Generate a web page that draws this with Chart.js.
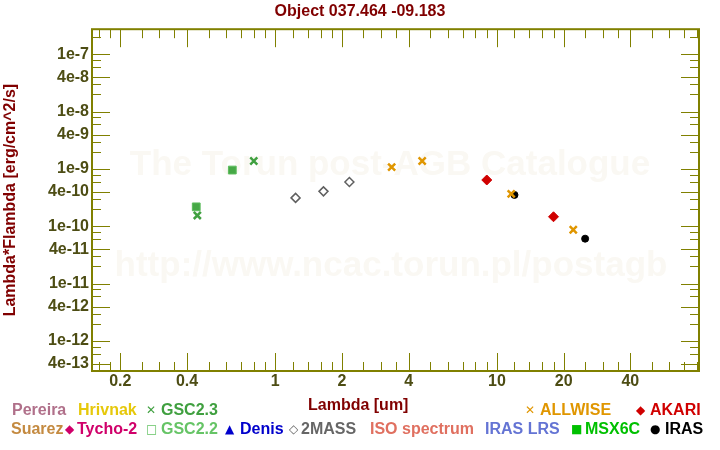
<!DOCTYPE html>
<html>
<head>
<meta charset="utf-8">
<script src="https://cdn.jsdelivr.net/npm/chart.js@4.4.1/dist/chart.umd.min.js"></script>
<style>
  body { margin: 0; background: #fff; }
  #wrap { position: relative; width: 720px; height: 450px; }
  .lg { position: absolute; font: bold 16px "Liberation Sans", Arial, sans-serif; line-height: 18px; white-space: nowrap; }
  .sym { position: absolute; font: 12px "DejaVu Sans", sans-serif; line-height: 12px; }
</style>
</head>
<body>
<div id="wrap">
  <canvas id="sed" width="720" height="450"></canvas>
  <div id="legend"></div>
</div>
<script>
// photometry: wavelength [um] and lambda*F_lambda [erg/cm^2/s]
const gsc22Lam = [0.44, 0.64]
const gsc22Flux = [2.19e-10, 9.6e-10]
const gsc23Lam = [0.445, 0.8]
const gsc23Flux = [1.55e-10, 1.38e-9]
const twomassLam = [1.235, 1.65, 2.16]
const twomassFlux = [3.14e-10, 4.08e-10, 5.94e-10]
const allwiseLam = [3.35, 4.6, 11.6, 22.1]
const allwiseFlux = [1.08e-9, 1.38e-9, 3.68e-10, 8.73e-11]
const akariLam = [9, 18]
const akariFlux = [6.44e-10, 1.47e-10]
const irasLam = [12, 25]
const irasFlux = [3.54e-10, 6.1e-11]

// axes
const xTickVals = [0.2, 0.4, 1, 2, 4, 10, 20, 40]
const xTickLabels = ['0.2', '0.4', '1', '2', '4', '10', '20', '40']
const xMinorVals = [0.16, 0.18, 0.25, 0.3, 0.35, 0.5, 0.6, 0.7, 0.8, 0.9, 1.2, 1.4, 1.6, 1.8,
  2.5, 3, 3.5, 5, 6, 7, 8, 9, 12, 14, 16, 18, 25, 30, 35, 50, 60, 70, 80]
const yTickVals = [1e-7, 4e-8, 1e-8, 4e-9, 1e-9, 4e-10, 1e-10, 4e-11, 1e-11, 4e-12, 1e-12, 4e-13]
const yTickLabels = ['1e-7', '4e-8', '1e-8', '4e-9', '1e-9', '4e-10', '1e-10', '4e-11', '1e-11', '4e-12', '1e-12', '4e-13']
const yMinorVals = [2e-7, 8e-8, 6e-8, 3e-8, 2e-8, 8e-9, 6e-9, 3e-9, 2e-9, 8e-10, 6e-10, 3e-10, 2e-10,
  8e-11, 6e-11, 3e-11, 2e-11, 8e-12, 6e-12, 3e-12, 2e-12, 8e-13, 6e-13]
const xMin = 0.149, xMax = 81.6
const yMin = 3.18e-13, yMax = 2.75e-7

const watermark = ['The Torun post-AGB Catalogue', 'http://www.ncac.torun.pl/postagb']

// legend: [text, colour, left, row, isSymbol]
const legendItems = [
  ['Pereira', '#b0708a', 12, 0],
  ['Hrivnak', '#e6c80a', 78, 0],
  ['\u2715', '#40a040', 146, 0, true],
  ['GSC2.3', '#40a040', 161, 0],
  ['\u2715', '#e09600', 525, 0, true],
  ['ALLWISE', '#e09600', 540, 0],
  ['\u25c6', '#d00000', 636, 0, true],
  ['AKARI', '#d00000', 650, 0],
  ['Suarez', '#c48a40', 11, 1],
  ['\u25c6', '#d0006a', 65, 1, true],
  ['Tycho-2', '#d0006a', 77, 1],
  ['\u25a1', '#66c466', 146, 1, true],
  ['GSC2.2', '#66c466', 161, 1],
  ['\u25b2', '#0000cc', 225, 1, true],
  ['Denis', '#0000cc', 240, 1],
  ['\u25c7', '#666666', 289, 1, true],
  ['2MASS', '#666666', 301, 1],
  ['ISO spectrum', '#e07060', 370, 1],
  ['IRAS LRS', '#6474d4', 485, 1],
  ['\u25a0', '#00c000', 571, 1, true],
  ['MSX6C', '#00c000', 585, 1],
  ['\u25cf', '#000000', 650, 1, true],
  ['IRAS', '#000000', 665, 1]
]

const fontFamily = '"Liberation Sans", Arial, sans-serif'
const frameColor = '#808000'
const tickColor = '#4d4d14'
const titleColor = '#800000'

function pts(lam, flux) {
  return lam.map((l, i) => ({ x: l, y: flux[i] }))
}

function buildLegend() {
  const box = document.getElementById('legend')
  const rowTop = [401, 420]
  legendItems.forEach(([text, color, left, row, isSym]) => {
    const el = document.createElement('div')
    el.className = isSym ? 'sym' : 'lg'
    el.textContent = text
    el.style.color = color
    el.style.left = left + 'px'
    el.style.top = (rowTop[row] + (isSym ? 3 : 0)) + 'px'
    box.appendChild(el)
  })
  const xt = document.createElement('div')
  xt.className = 'lg'
  xt.textContent = 'Lambda [um]'
  xt.style.color = titleColor
  xt.style.left = '308px'
  xt.style.top = '396px'
  box.appendChild(xt)
}

const frameTicks = {
  id: 'frameTicks',
  beforeDatasetsDraw(chart) {
    const { ctx, chartArea: a, scales: { x, y } } = chart
    ctx.save()
    ctx.fillStyle = '#faf8f3'
    ctx.font = 'bold 35px ' + fontFamily
    ctx.textAlign = 'center'
    ctx.fillText(watermark[0], 390, 175)
    ctx.fillText(watermark[1], 391, 276)

    ctx.strokeStyle = frameColor
    ctx.lineWidth = 1
    ctx.beginPath()
    const tickX = (vals, len) => vals.filter(v => v > xMin && v < xMax).forEach(v => {
      const px = Math.round(x.getPixelForValue(v)) + 0.5
      ctx.moveTo(px, a.bottom); ctx.lineTo(px, a.bottom - len)
      ctx.moveTo(px, a.top); ctx.lineTo(px, a.top + len)
    })
    const tickY = (vals, len) => vals.filter(v => v > yMin && v < yMax).forEach(v => {
      const py = Math.round(y.getPixelForValue(v)) + 0.5
      ctx.moveTo(a.left, py); ctx.lineTo(a.left + len, py)
      ctx.moveTo(a.right, py); ctx.lineTo(a.right - len, py)
    })
    tickX(xTickVals, 18)
    tickX(xMinorVals, 9)
    tickY(yTickVals, 18)
    tickY(yMinorVals, 9)
    ctx.stroke()
    ctx.lineWidth = 2
    ctx.strokeRect(a.left, a.top, a.right - a.left, a.bottom - a.top)
    ctx.restore()
  }
}

const tickFont = { family: fontFamily, size: 16, weight: 'bold' }

new Chart(document.getElementById('sed'), {
  type: 'scatter',
  data: {
    datasets: [
      {
        label: 'ALLWISE', data: pts(allwiseLam, allwiseFlux),
        pointStyle: 'crossRot', pointRadius: 5, pointBorderWidth: 2.5,
        pointBorderColor: '#e09600', pointBackgroundColor: '#e09600'
      },
      {
        label: 'AKARI', data: pts(akariLam, akariFlux),
        pointStyle: 'rectRot', pointRadius: 5, pointBorderWidth: 1,
        pointBorderColor: '#d00000', pointBackgroundColor: '#d00000'
      },
      {
        label: 'IRAS', data: pts(irasLam, irasFlux),
        pointStyle: 'circle', pointRadius: 3.5, pointBorderWidth: 1,
        pointBorderColor: '#000', pointBackgroundColor: '#000'
      },
      {
        label: '2MASS', data: pts(twomassLam, twomassFlux),
        pointStyle: 'rectRot', pointRadius: 4.5, pointBorderWidth: 1.5,
        pointBorderColor: '#606060', pointBackgroundColor: 'rgba(255,255,255,0)'
      },
      {
        label: 'GSC2.3', data: pts(gsc23Lam, gsc23Flux),
        pointStyle: 'crossRot', pointRadius: 5, pointBorderWidth: 2.5,
        pointBorderColor: '#40a040', pointBackgroundColor: '#40a040'
      },
      {
        label: 'GSC2.2', data: pts(gsc22Lam, gsc22Flux),
        pointStyle: 'rect', pointRadius: 5.5, pointBorderWidth: 1,
        pointBorderColor: '#5cbc5c', pointBackgroundColor: '#46a846'
      }
    ]
  },
  options: {
    responsive: false,
    animation: false,
    events: [],
    layout: { padding: 0 },
    plugins: {
      legend: { display: false },
      tooltip: { enabled: false },
      title: {
        display: true,
        text: 'Object 037.464 -09.183',
        color: titleColor,
        font: { family: fontFamily, size: 16, weight: 'bold' },
        padding: { top: 2, bottom: 8 }
      }
    },
    scales: {
      x: {
        type: 'logarithmic', min: xMin, max: xMax,
        grid: { display: false, drawTicks: false },
        border: { display: false },
        afterBuildTicks: s => { s.ticks = xTickVals.map(v => ({ value: v })) },
        ticks: {
          callback: (v, i) => xTickLabels[i],
          color: tickColor, font: tickFont, padding: 1,
          autoSkip: false, maxRotation: 0
        },
        afterFit: s => { s.height = 79 }
      },
      y: {
        type: 'logarithmic', min: yMin, max: yMax,
        grid: { display: false, drawTicks: false },
        border: { display: false },
        afterBuildTicks: s => { s.ticks = yTickVals.map(v => ({ value: v })) },
        ticks: {
          callback: (v, i) => yTickLabels[i],
          color: tickColor, font: tickFont, padding: 3, autoSkip: false
        },
        title: {
          display: true,
          text: 'Lambda*Flambda [erg/cm^2/s]',
          color: titleColor,
          font: { family: fontFamily, size: 16, weight: 'bold' },
          padding: { top: 1, bottom: 0 }
        },
        afterFit: s => { s.width = 92 }
      },
      yRight: {
        type: 'linear', position: 'right',
        grid: { display: false, drawTicks: false },
        border: { display: false },
        ticks: { display: false },
        afterFit: s => { s.width = 21 }
      }
    }
  },
  plugins: [frameTicks]
})

buildLegend()
</script>
</body>
</html>
